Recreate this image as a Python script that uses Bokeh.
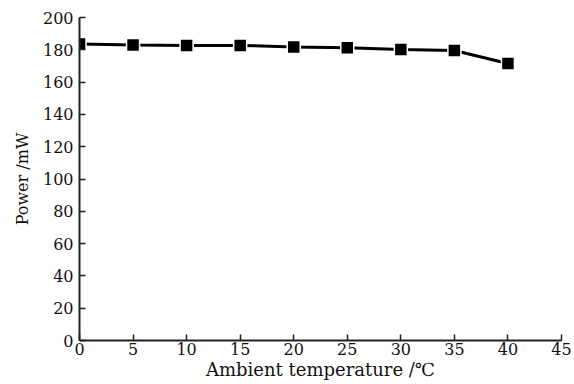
from bokeh.plotting import figure
from bokeh.models import ColumnDataSource, Range1d, FixedTicker
from bokeh.embed import file_html
from bokeh.resources import INLINE

temperature = [0, 5, 10, 15, 20, 25, 30, 35, 40]
power = [183.6, 183.0, 182.7, 182.7, 181.8, 181.2, 180.2, 179.6, 171.5]
x_ticks = [0, 5, 10, 15, 20, 25, 30, 35, 40, 45]
y_ticks = [0, 20, 40, 60, 80, 100, 120, 140, 160, 180, 200]

src = ColumnDataSource(data=dict(x=temperature, y=power))

p = figure(width=574, height=384, output_backend="svg", toolbar_location=None,
           x_range=Range1d(0, 45), y_range=Range1d(0, 200),
           min_border_left=79, min_border_right=13, min_border_top=17, min_border_bottom=44)
p.outline_line_color = None
p.grid.visible = False
p.background_fill_color = "white"

p.line("x", "y", source=src, line_color="black", line_width=3)
p.scatter("x", "y", source=src, marker="square", size=13, fill_color="black",
          line_color="white", line_width=1.5)

font = "DejaVu Serif"
for ax in (p.xaxis[0], p.yaxis[0]):
    ax.axis_line_color = "#222222"
    ax.axis_line_width = 2
    ax.major_tick_in = 6
    ax.major_tick_out = 0
    ax.minor_tick_line_color = None
    ax.major_tick_line_color = "#222222"
    ax.major_tick_line_width = 1.5
    ax.major_label_text_font = font
    ax.major_label_text_font_size = "16px"
    ax.major_label_text_color = "#111111"
    ax.axis_label_text_font = font
    ax.axis_label_text_font_style = "normal"
    ax.axis_label_text_color = "#111111"

p.xaxis.axis_label_text_font_size = "18px"
p.yaxis.axis_label_text_font_size = "16px"
p.xaxis.ticker = FixedTicker(ticks=x_ticks)
p.yaxis.ticker = FixedTicker(ticks=y_ticks)
p.xaxis.axis_label = "Ambient temperature /℃"
p.yaxis.axis_label = "Power /mW"
p.xaxis.major_label_standoff = 2
p.yaxis.major_label_standoff = 6
p.xaxis.axis_label_standoff = 1
p.yaxis.axis_label_standoff = 8

open("out.html", "w").write(file_html(p, INLINE))
